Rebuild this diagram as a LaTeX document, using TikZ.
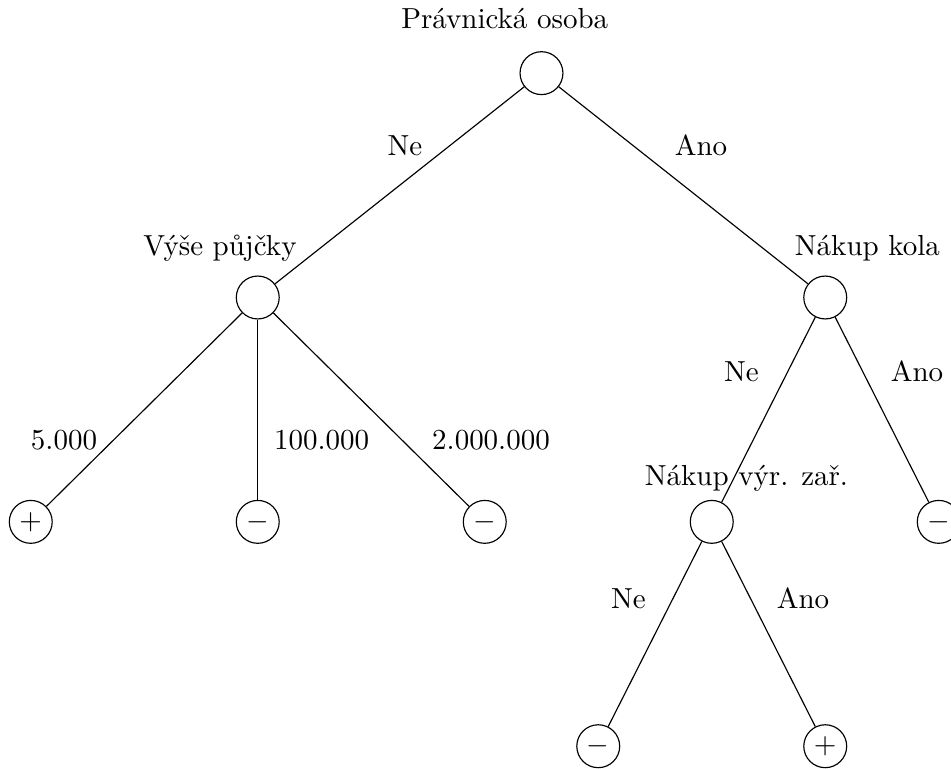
\documentclass[tikz,border=0pt]{standalone}
\usepackage{tikz}

\begin{document}
\begin{tikzpicture}
  [x=1.376cm,y=2.72cm,
   vertex/.style={circle,draw,inner sep=0pt,minimum size=14.8pt}]
  \useasboundingbox (-4.771,0.326) rectangle (3.608,-3.098);

  \node[vertex] (root) at (0,0) {};
  \node[anchor=base] (Root) at (-0.324,0.201) {Právnická osoba};

  \node[vertex] (vyse) at (-2.5,-1) {};
  \node[anchor=base] (Vyse) at (-2.833,-0.8125) {Výše půjčky};
  \node[vertex] (kolo) at (2.5,-1) {};
  \node[anchor=base] (Kolo) at (2.872,-0.8125) {Nákup kola};

  \node[vertex] (v1) at (-4.5,-2) {$+$};
  \node[vertex] (v2) at (-2.5,-2) {$-$};
  \node[vertex] (v3) at (-0.5,-2) {$-$};

  \node[vertex] (zar) at (1.5,-2) {};
  \node[anchor=base] (Zar) at (1.806,-1.839) {Nákup výr. zař.};
  \node[vertex] (k2) at (3.5,-2) {$-$};

  \node[vertex] (z1) at (0.5,-3) {$-$};
  \node[vertex] (z2) at (2.5,-3) {$+$};

  % edge labels
  \node[anchor=base] (ne0) at (-1.203,-0.366) {Ne};
  \node[anchor=base] (ano0) at (1.405,-0.366) {Ano};
  \node[anchor=base] (a1) at (-4.207,-1.677) {5.000};
  \node[anchor=base] (a2) at (-1.938,-1.677) {100.000};
  \node[anchor=base] (a3) at (-0.445,-1.677) {2.000.000};
  \node[anchor=base] (ne1) at (1.762,-1.375) {Ne};
  \node[anchor=base] (ano1) at (3.308,-1.375) {Ano};
  \node[anchor=base] (ne2) at (0.767,-2.388) {Ne};
  \node[anchor=base] (ano2) at (2.304,-2.388) {Ano};

  \foreach \from/\to in {
    root/vyse,root/kolo,
    vyse/v1,vyse/v2,vyse/v3,
    kolo/zar,kolo/k2,
    zar/z1,zar/z2}
  \draw (\from) -- (\to);
\end{tikzpicture}
\end{document}
